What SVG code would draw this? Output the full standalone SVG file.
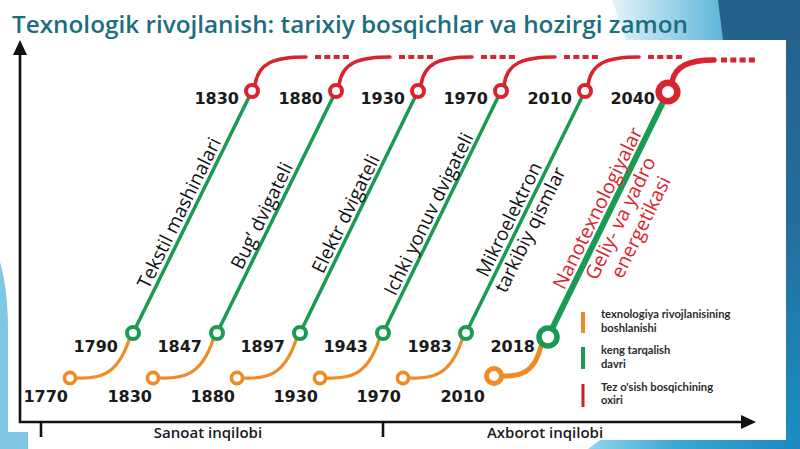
<svg xmlns="http://www.w3.org/2000/svg" width="800" height="449" viewBox="0 0 800 449">
<defs>
<linearGradient id="gTopLight" x1="0" y1="0" x2="1" y2="0">
<stop offset="0" stop-color="#e4f4fa"/><stop offset="1" stop-color="#5db5d9"/>
</linearGradient>
<linearGradient id="gRight" x1="0" y1="0" x2="0" y2="1">
<stop offset="0" stop-color="#255f8a"/><stop offset="0.5" stop-color="#236e9c"/><stop offset="1" stop-color="#1b8fc4"/>
</linearGradient>
<linearGradient id="gBottom" x1="0" y1="0" x2="1" y2="0">
<stop offset="0" stop-color="#8fd6ea"/><stop offset="0.4" stop-color="#3fa9d4"/><stop offset="1" stop-color="#1c86bf"/>
</linearGradient>
</defs>
<style>
.title{font-family:"Open Sans","Noto Sans",sans-serif;font-weight:600;font-size:24px;fill:#1b6e80}
.yr{font-family:"DejaVu Sans",sans-serif;font-weight:bold;font-size:16px;fill:#1a1a1a;text-anchor:end}
.tech{font-family:"Open Sans","Noto Sans",sans-serif;font-size:19px;fill:#111;text-anchor:middle}
.techr{font-family:"Open Sans","Noto Sans",sans-serif;font-size:19.5px;fill:#d9232e;text-anchor:middle}
.leg{font-family:Lato,"Open Sans",sans-serif;font-weight:bold;font-size:11.2px;fill:#2b2b2b}
.ax{font-family:"Open Sans","Noto Sans",sans-serif;font-weight:600;font-size:15px;fill:#1a1a1a;text-anchor:middle}
.o{fill:none;stroke:#f08a24;stroke-width:3.2;stroke-linecap:round}
.g{fill:none;stroke:#1a9a52;stroke-width:3.5;stroke-linecap:round}
.r{fill:none;stroke:#d9232e;stroke-width:3.5;stroke-linecap:round}
.rd{fill:none;stroke:#d9232e;stroke-width:4;stroke-dasharray:6 3.3}
.co{fill:#fff;stroke:#f08a24;stroke-width:3.6}
.cg{fill:#fff;stroke:#1a9a52;stroke-width:4}
.cr{fill:#fff;stroke:#d9232e;stroke-width:4}
.axis{stroke:#111;stroke-width:2.6;fill:none}
</style>

<!-- background decorations -->
<rect x="0" y="0" width="800" height="449" fill="#ffffff"/>
<polygon points="612,0 720,0 724,40 626,40" fill="url(#gTopLight)"/>
<polygon points="718,0 800,0 800,449 786,449 786,40 723,40" fill="url(#gRight)"/>
<polygon points="600,440 800,440 800,449 588,449" fill="url(#gBottom)"/>
<path d="M0,262 Q8,290 8,330 L8,432 L28,432 L28,449 L0,449 Z" fill="#7ec8e3"/>

<text class="title" x="12" y="33" textLength="676" lengthAdjust="spacingAndGlyphs">Texnologik rivojlanish: tarixiy bosqichlar va hozirgi zamon</text>

<!-- axes -->
<g id="axes">
<line class="axis" x1="20" y1="423" x2="20" y2="54"/>
<polygon points="20,40 13,55 27,55" fill="#111"/>
<line class="axis" x1="19" y1="422" x2="742" y2="422"/>
<polygon points="756,422 741,415 741,429" fill="#111"/>
<line class="axis" x1="41" y1="422" x2="41" y2="437"/>
<line class="axis" x1="383" y1="422" x2="383" y2="437"/>
<text class="ax" x="208" y="438">Sanoat inqilobi</text>
<text class="ax" x="545" y="438">Axborot inqilobi</text>
</g>

<!-- connectors -->
<g id="connectors">
<path class="o" d="M76,378 C99,379 117,376 129,340"/>
<path class="o" d="M159,378 C182,379 201,376 213,340"/>
<path class="o" d="M243,378 C266,379 284,376 296,340"/>
<path class="o" d="M326,378 C349,379 367,376 379,340"/>
<path class="o" d="M409,378 C432,379 450,376 462,340"/>
<path class="o" d="M501,376 C521,377 535,372 541,346" style="stroke-width:5"/>

<line class="g" x1="133" y1="333" x2="252" y2="91"/>
<line class="g" x1="217" y1="333" x2="336" y2="91"/>
<line class="g" x1="300" y1="333" x2="418" y2="91"/>
<line class="g" x1="383" y1="333" x2="501" y2="91"/>
<line class="g" x1="466" y1="333" x2="585" y2="91"/>
<line class="g" x1="548" y1="337" x2="668" y2="92" style="stroke-width:6"/>

<path class="r" d="M255,85 C258,63 274,57 306,57"/>
<path class="r" d="M339,85 C342,63 358,57 390,57"/>
<path class="r" d="M421,85 C424,63 440,57 472,57"/>
<path class="r" d="M504,85 C507,63 523,57 555,57"/>
<path class="r" d="M588,85 C591,63 607,57 639,57"/>
<path class="r" d="M672,82 C675,66 689,60 714,60" style="stroke-width:5.5"/>

<line class="rd" x1="315" y1="57" x2="349" y2="57"/>
<line class="rd" x1="399" y1="57" x2="433" y2="57"/>
<line class="rd" x1="481" y1="57" x2="515" y2="57"/>
<line class="rd" x1="564" y1="57" x2="598" y2="57"/>
<line class="rd" x1="648" y1="57" x2="682" y2="57"/>
<line class="rd" x1="721" y1="60" x2="755" y2="60" style="stroke-width:5"/>
</g>

<!-- nodes: start (orange) -->
<g id="n1770"><circle class="co" cx="70" cy="378" r="5.6"/><text class="yr" x="68" y="402">1770</text></g>
<g id="n1830s"><circle class="co" cx="153" cy="378" r="5.6"/><text class="yr" x="152" y="402">1830</text></g>
<g id="n1880s"><circle class="co" cx="237" cy="378" r="5.6"/><text class="yr" x="235" y="402">1880</text></g>
<g id="n1930s"><circle class="co" cx="320" cy="378" r="5.6"/><text class="yr" x="318" y="402">1930</text></g>
<g id="n1970s"><circle class="co" cx="403" cy="378" r="5.6"/><text class="yr" x="401" y="402">1970</text></g>
<g id="n2010s"><circle class="co" cx="494" cy="376" r="7.5" style="stroke-width:5"/><text class="yr" x="485" y="402">2010</text></g>

<!-- nodes: spread (green) -->
<g id="n1790"><circle class="cg" cx="133" cy="333" r="6"/><text class="yr" x="118" y="352">1790</text></g>
<g id="n1847"><circle class="cg" cx="217" cy="333" r="6"/><text class="yr" x="202" y="352">1847</text></g>
<g id="n1897"><circle class="cg" cx="300" cy="333" r="6"/><text class="yr" x="285" y="352">1897</text></g>
<g id="n1943"><circle class="cg" cx="383" cy="333" r="6"/><text class="yr" x="368" y="352">1943</text></g>
<g id="n1983"><circle class="cg" cx="466" cy="333" r="6"/><text class="yr" x="452" y="352">1983</text></g>
<g id="n2018"><circle class="cg" cx="548" cy="337" r="9" style="stroke-width:5.5"/><text class="yr" x="535" y="352">2018</text></g>

<!-- nodes: end (red) -->
<g id="n1830e"><circle class="cr" cx="252" cy="91" r="6"/><text class="yr" x="239" y="104">1830</text></g>
<g id="n1880e"><circle class="cr" cx="336" cy="91" r="6"/><text class="yr" x="323" y="104">1880</text></g>
<g id="n1930e"><circle class="cr" cx="418" cy="91" r="6"/><text class="yr" x="405" y="104">1930</text></g>
<g id="n1970e"><circle class="cr" cx="501" cy="91" r="6"/><text class="yr" x="488" y="104">1970</text></g>
<g id="n2010e"><circle class="cr" cx="585" cy="91" r="6"/><text class="yr" x="572" y="104">2010</text></g>
<g id="n2040e"><circle class="cr" cx="668" cy="92" r="9.3" style="stroke-width:6.5"/><text class="yr" x="655" y="104">2040</text></g>

<!-- technology labels -->
<g id="t1"><text class="tech" transform="translate(185,215.9) rotate(-63.8)">Tekstil mashinalari</text></g>
<g id="t2"><text class="tech" transform="translate(267.7,218.6) rotate(-63.8)">Bug’ dvigateli</text></g>
<g id="t3"><text class="tech" transform="translate(351.6,216.8) rotate(-63.8)">Elektr dvigateli</text></g>
<g id="t4"><text class="tech" transform="translate(434.6,216.8) rotate(-63.8)">Ichki yonuv dvigateli</text></g>
<g id="t5"><text class="tech" transform="translate(514.9,222.2) rotate(-63.8)">Mikroelektron</text>
<text class="tech" transform="translate(536,232.6) rotate(-63.8)">tarkibiy qismlar</text></g>
<g id="t6"><text class="techr" transform="translate(603.6,211.1) rotate(-63.7)">Nanotexnologiyalar</text>
<text class="techr" transform="translate(626.5,221.2) rotate(-63.7)">Geliy- va yadro</text>
<text class="techr" transform="translate(646.7,230.1) rotate(-63.7)">energetikasi</text></g>

<!-- legend -->
<g id="legend">
<rect x="581" y="312" width="4" height="21" fill="#f08a24"/>
<rect x="581" y="347" width="4" height="22" fill="#1a9a52"/>
<rect x="581.5" y="384" width="3" height="23" fill="#c8202b"/>
<text class="leg" x="601" y="318">texnologiya rivojlanisining</text>
<text class="leg" x="601" y="332">boshlanishi</text>
<text class="leg" x="601" y="354">keng tarqalish</text>
<text class="leg" x="601" y="368">davri</text>
<text class="leg" x="601" y="391">Tez o'sish bosqichining</text>
<text class="leg" x="601" y="404">oxiri</text>
</g>
</svg>
